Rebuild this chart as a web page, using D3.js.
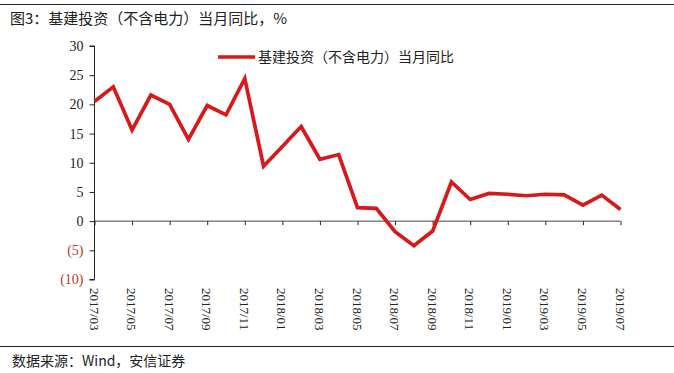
<!DOCTYPE html>
<html><head><meta charset="utf-8">
<script src="https://cdn.jsdelivr.net/npm/d3@7/dist/d3.min.js"></script>
<style>body{margin:0;background:#fff;}svg{display:block;}</style>
</head><body>
<svg id="c" width="674" height="373"></svg>
<script>
const months = ["2017/03","2017/04","2017/05","2017/06","2017/07","2017/08","2017/09","2017/10","2017/11","2017/12",
"2018/01","2018/02","2018/03","2018/04","2018/05","2018/06","2018/07","2018/08","2018/09","2018/10","2018/11","2018/12",
"2019/01","2019/02","2019/03","2019/04","2019/05","2019/06","2019/07"];
const values = [20.5,23.0,15.6,21.6,20.0,14.0,19.8,18.2,24.4,9.4,
12.8,16.2,10.6,11.4,2.3,2.2,-1.8,-4.2,-1.7,6.7,3.7,4.75,
4.6,4.35,4.6,4.5,2.75,4.45,2.0];
const yTicks = [30,25,20,15,10,5,0,-5,-10];
const title = "图3：基建投资（不含电力）当月同比，%";
const seriesName = "基建投资（不含电力）当月同比";
const source = "数据来源：Wind，安信证券";

const svg = d3.select("#c");
const serif = "'Liberation Serif','Times New Roman','Noto Sans CJK SC',serif";
const cjk = "'Noto Sans CJK SC','Liberation Serif',serif";

// frame lines
svg.append("line").attr("x1",0).attr("x2",674).attr("y1",4.5).attr("y2",4.5).attr("stroke","#222").attr("stroke-width",1.2);
svg.append("line").attr("x1",0).attr("x2",674).attr("y1",346.5).attr("y2",346.5).attr("stroke","#222").attr("stroke-width",1.2);
svg.append("text").attr("x",10).attr("y",24).attr("font-family",cjk).attr("font-size",15).attr("fill","#222").text(title);
svg.append("text").attr("x",12).attr("y",366).attr("font-family",cjk).attr("font-size",14).attr("fill","#222").text(source);

const x = d3.scalePoint().domain(months).range([94.5,620.5]);
const y = d3.scaleLinear().domain([-10,30]).range([279.5,46]);

// y axis
const yAxis = svg.append("g").attr("transform","translate(94.5,0)")
  .call(d3.axisLeft(y).tickValues(yTicks).tickSize(5).tickPadding(6)
    .tickFormat(d => d < 0 ? "(" + Math.abs(d) + ")" : d));
yAxis.select(".domain").attr("stroke","#222").attr("d","M0,"+y(30)+"V"+y(-10)+"M-5,"+y(30)+"H0M-5,"+y(-10)+"H0");
yAxis.selectAll(".tick line").attr("stroke","#222");
yAxis.selectAll(".tick text").attr("font-family",serif).attr("font-size",14)
  .attr("fill", d => d < 0 ? "#b23a2c" : "#222");

// x axis at zero
const labeled = months.filter((m,i) => i % 2 === 0);
const xAxis = svg.append("g").attr("transform","translate(0,"+y(0)+")")
  .call(d3.axisBottom(x).tickValues(labeled).tickSize(4).tickFormat(""));
xAxis.select(".domain").attr("stroke","#444").attr("d","M"+x(months[0])+",0H"+x(months[months.length-1]));
xAxis.selectAll(".tick line").attr("stroke","#222");

// x labels rotated
svg.append("g").selectAll("text").data(labeled).join("text")
  .attr("transform", d => "translate(" + (x(d)-5) + ",288) rotate(90)")
  .attr("font-family",serif).attr("font-size",13).attr("fill","#222")
  .attr("dominant-baseline","auto").text(d => d);

// line
const line = d3.line().x((d,i) => x(months[i])).y(d => y(d));
svg.append("path").datum(values).attr("d",line).attr("fill","none")
  .attr("stroke","#d7191c").attr("stroke-width",3.7).attr("stroke-linejoin","miter");

// legend
svg.append("line").attr("x1",218).attr("x2",255).attr("y1",57).attr("y2",57).attr("stroke","#d7191c").attr("stroke-width",3.7);
svg.append("text").attr("x",258).attr("y",62).attr("font-family",cjk).attr("font-size",14).attr("fill","#222").text(seriesName);
</script>
</body></html>
